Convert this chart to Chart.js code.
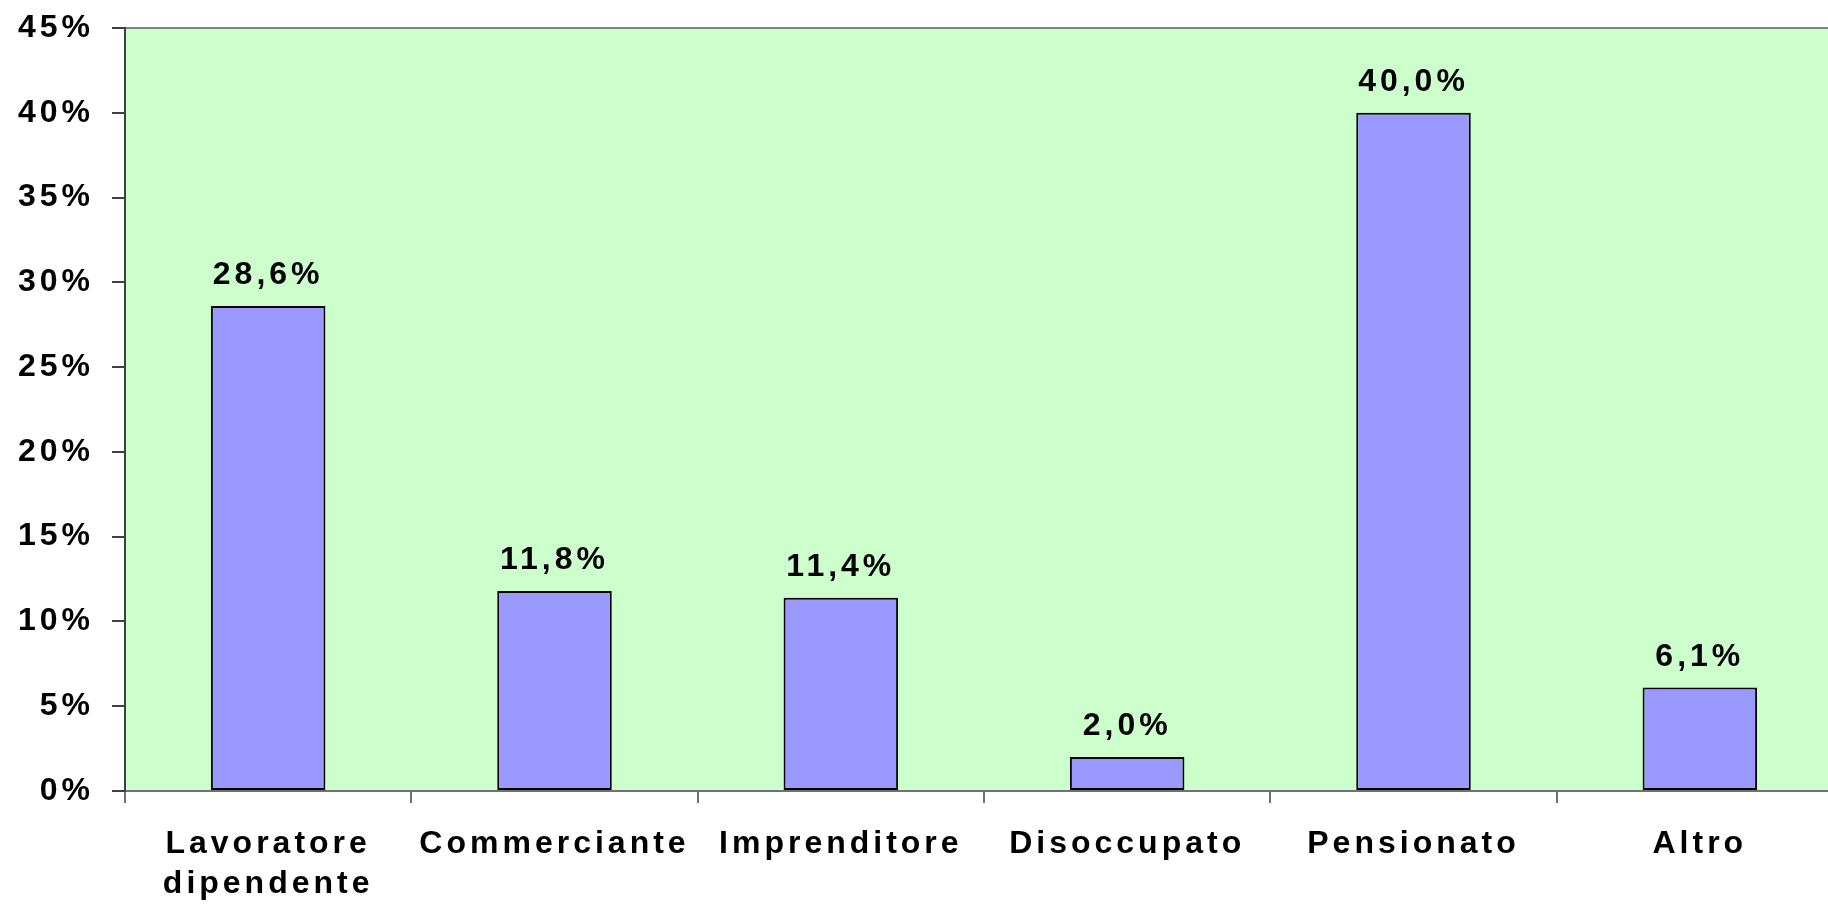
<!DOCTYPE html>
<html>
<head>
<meta charset="utf-8">
<script src="https://cdn.jsdelivr.net/npm/chart.js@4.4.1/dist/chart.umd.min.js"></script>
<style>
  html, body { margin: 0; padding: 0; background: #ffffff; overflow: hidden; }
  #wrap { position: absolute; left: 0; top: 0; width: 1843px; height: 906px; }
</style>
</head>
<body>
<div id="wrap"><canvas id="c"></canvas></div>
<script>
const categories = [['Lavoratore', 'dipendente'], 'Commerciante', 'Imprenditore', 'Disoccupato', 'Pensionato', 'Altro'];
const values = [28.6, 11.8, 11.4, 2.0, 40.0, 6.1];
const yTickMin = 0;
const yTickMax = 45;
const yTickStep = 5;

const FONT = { family: "'Liberation Sans', Arial, sans-serif", size: 32, weight: 'bold' };
const LETTER_SPACING = '4px';

const setSpacing = {
  id: 'setSpacing',
  beforeUpdate(chart) { chart.ctx.letterSpacing = LETTER_SPACING; },
  beforeLayout(chart) { chart.ctx.letterSpacing = LETTER_SPACING; },
  beforeDraw(chart) { chart.ctx.letterSpacing = LETTER_SPACING; }
};

const plotBg = {
  id: 'plotBg',
  beforeDraw(chart) {
    const { ctx, chartArea: a } = chart;
    ctx.save();
    ctx.fillStyle = '#CCFFCC';
    ctx.fillRect(a.left, a.top, a.right - a.left, a.bottom - a.top);
    ctx.strokeStyle = '#808080';
    ctx.lineWidth = 2;
    ctx.beginPath();
    ctx.moveTo(a.left, a.top);
    ctx.lineTo(a.right, a.top);
    ctx.stroke();
    ctx.restore();
  }
};

const valueLabels = {
  id: 'valueLabels',
  afterDatasetsDraw(chart) {
    const { ctx } = chart;
    const meta = chart.getDatasetMeta(0);
    ctx.save();
    ctx.letterSpacing = LETTER_SPACING;
    ctx.font = `${FONT.weight} ${FONT.size}px ${FONT.family}`;
    ctx.fillStyle = '#000000';
    ctx.textAlign = 'center';
    ctx.textBaseline = 'alphabetic';
    meta.data.forEach((bar, i) => {
      const txt = values[i].toFixed(1).replace('.', ',') + '%';
      ctx.fillText(txt, bar.x, bar.y - 22);
    });
    ctx.restore();
  }
};

new Chart(document.getElementById('c'), {
  type: 'bar',
  data: {
    labels: categories,
    datasets: [{
      data: values,
      backgroundColor: '#9999FF',
      borderColor: '#000000',
      borderWidth: 2,
      borderSkipped: false,
      barPercentage: 0.4,
      categoryPercentage: 1.0
    }]
  },
  options: {
    responsive: true,
    maintainAspectRatio: false,
    animation: false,
    layout: { padding: { top: 28, right: 0, bottom: 0, left: 0 } },
    plugins: { legend: { display: false }, tooltip: { enabled: false }, title: { display: false } },
    scales: {
      x: {
        offset: true,
        grid: { display: true, drawOnChartArea: false, drawTicks: true, tickLength: 12, color: '#707070', lineWidth: 2, offset: true },
        border: { display: true, color: '#707070', width: 2 },
        ticks: { color: '#000000', font: { ...FONT, lineHeight: 1.25 }, padding: 21, maxRotation: 0, autoSkip: false },
        afterFit(s) { s.height = 115; s.paddingLeft = 0; s.paddingRight = 0; }
      },
      y: {
        min: yTickMin,
        max: yTickMax,
        grid: { display: true, drawOnChartArea: false, drawTicks: true, tickLength: 13, color: '#404040', lineWidth: 2 },
        border: { display: true, color: '#404040', width: 2 },
        ticks: { stepSize: yTickStep, color: '#000000', font: FONT, padding: 18, callback: v => v + '%' },
        afterFit(s) { s.width = 125; s.paddingTop = 10; s.paddingBottom = 10; }
      }
    }
  },
  plugins: [setSpacing, plotBg, valueLabels]
});
</script>
</body>
</html>
